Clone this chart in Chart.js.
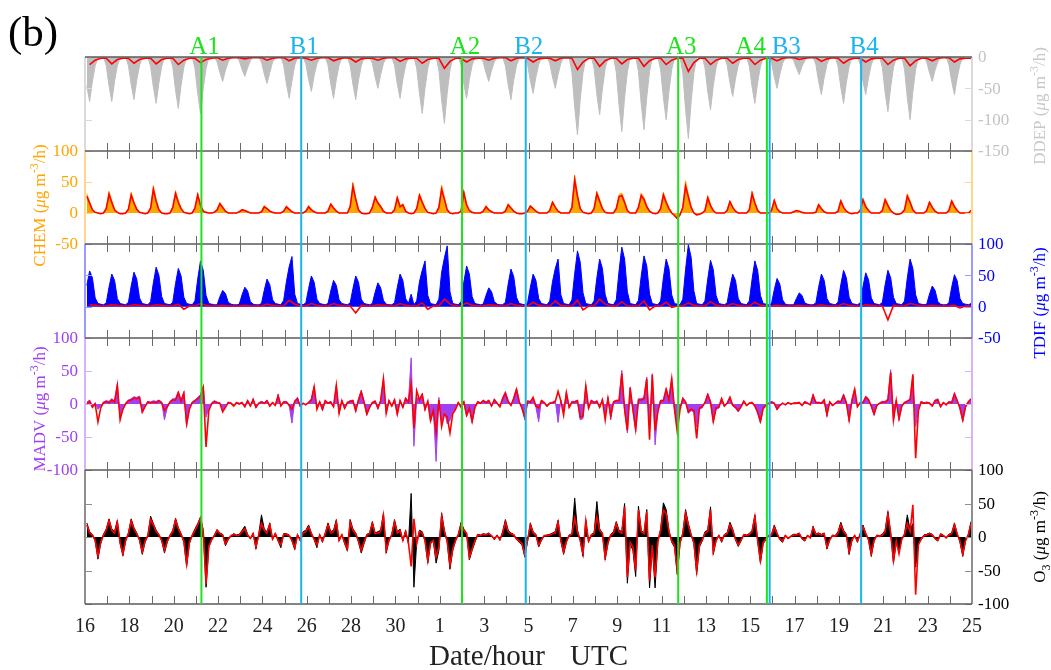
<!DOCTYPE html>
<html>
<head>
<meta charset="utf-8">
<script src="https://cdn.jsdelivr.net/npm/chart.js@4.4.1/dist/chart.umd.min.js"></script>
<style>
  html, body { margin: 0; padding: 0; background: #fff; }
  canvas { display: block; }
</style>
</head>
<body>
<canvas id="chart" width="1051" height="670"></canvas>
<script>
// tanggal pada sumbu x (setiap 2 hari, mulai tgl 16 sampai tgl 25 bulan berikutnya)
const dateLabels = ['16','18','20','22','24','26','28','30','1','3','5','7','9','11','13','15','17','19','21','23','25'];

// kejadian (jam sejak tgl 16 00 UTC)
const eventNames = ['A1','B1','A2','B2','A3','A4','B3','B4'];
const eventHours = [126, 234, 408, 477, 642, 738, 741, 840];

// nilai tiap 3 jam (02,05,08,11,14,17,20,23 UTC), satu kelompok = satu hari
const ddep = [
 -46,-71,-39,-14,-1,0,0,-14,  -46,-71,-39,-14,-1,0,0,-14,  -44,-68,-37,-14,-1,0,0,-15,  -48,-74,-41,-15,-1,0,0,-16,
 -53,-82,-45,-16,-1,0,0,-18,  -58,-90,-50,-18,-1,0,0,-8,   -25,-39,-21,-8,0,0,0,-6,    -20,-31,-17,-6,0,0,0,-8,
 -27,-42,-25,-8,-1,0,0,-13,   -43,-66,-38,-13,-1,0,0,-11,  -36,-55,-30,-11,-1,0,0,-13, -43,-66,-36,-13,-1,0,0,-14,
 -44,-68,-37,-14,-1,0,0,-10,  -32,-50,-28,-10,-1,0,0,-13,  -43,-66,-36,-13,-1,0,0,-18, -58,-90,-50,-18,-1,0,0,-21,
 -69,-106,-58,-21,-1,0,0,-13, -43,-66,-36,-13,-1,0,0,-8,   -25,-39,-21,-8,0,0,0,-14,   -44,-68,-37,-14,-1,0,0,-12,
 -38,-58,-32,-12,-1,0,0,-10,  -32,-50,-28,-10,-1,0,0,-25,  -80,-124,-68,-25,-1,0,0,-18, -60,-92,-51,-18,-1,0,0,-24,
 -77,-119,-65,-24,-1,0,0,-23, -75,-116,-64,-23,-1,0,0,-20, -65,-100,-55,-20,-1,0,0,-26, -84,-130,-72,-26,-1,0,0,-17,
 -55,-84,-46,-17,-1,0,0,-13,  -41,-63,-35,-13,-1,0,0,-15,  -48,-74,-41,-15,-1,0,0,-10, -32,-50,-28,-10,-1,0,0,-6,
 -18,-28,-15,-6,0,0,0,-12,    -39,-60,-33,-12,-1,0,0,-15,  -48,-74,-41,-15,-1,0,0,-12, -39,-60,-33,-12,-1,0,0,-17,
 -57,-87,-48,-17,-1,0,0,-20,  -65,-100,-55,-20,-1,0,0,-8,  -25,-39,-21,-8,0,0,0,-12,   -39,-60,-33,-12,-1,0,0,-4
];
// garis merah DDEP, tiap 6 jam (05,11,17,23 UTC)
const ddepRed = [
 -12,-5,-2,-2, -11,-4,-2,-2, -10,-4,-2,-2, -11,-4,-2,-2, -12,-5,-2,-2, -9,-4,-2,-1, -5,-2,-1,-1, -3,-1,-1,-1,
 -5,-2,-1,-1, -6,-2,-1,-2, -5,-2,-1,-1, -6,-3,-1,-2, -8,-3,-2,-2, -5,-2,-1,-1, -7,-3,-2,-2, -10,-4,-2,-2,
 -18,-7,-2,-2, -8,-3,-2,-2, -5,-2,-1,-1, -6,-2,-1,-2, -8,-3,-2,-2, -6,-2,-1,-2, -20,-8,-2,-2, -15,-6,-2,-2,
 -11,-4,-2,-2, -15,-6,-2,-2, -12,-5,-2,-2, -23,-9,-2,-2, -12,-5,-2,-2, -10,-4,-2,-2, -12,-5,-2,-2, -6,-2,-1,-1,
 -4,-2,-1,-1, -7,-3,-1,-2, -10,-4,-2,-2, -8,-3,-2,-2, -12,-5,-2,-2, -14,-6,-2,-2, -6,-2,-1,-1, -8,-3,-2,-2
];

const chem = [
 31,18,6,1,0,-1,0,8,  35,20,6,1,-1,-1,0,7, 33,18,7,1,0,-1,0,9,  44,22,6,0,-1,-1,0,10,
 36,20,8,1,0,-1,0,9,  32,14,4,1,0,0,1,6,   17,10,3,0,0,0,0,2,   6,4,2,0,0,0,0,2,
 12,8,3,1,0,0,0,3,    11,7,2,0,0,0,0,3,    12,6,2,0,0,0,0,4,    16,9,3,0,0,0,0,12,
 49,25,6,0,-1,-1,0,10, 28,18,12,3,0,0,0,6, 27,12,15,3,0,-1,0,8, 32,20,8,1,0,-1,0,10,
 45,25,6,0,-1,0,0,3,  35,15,4,1,0,0,0,3,   12,6,2,0,0,0,0,4,    15,9,3,0,-1,-1,0,3,
 13,8,3,0,0,0,0,5,    19,10,3,0,0,0,0,10,  61,30,8,1,0,-1,0,8,  35,22,8,1,0,0,0,8,
 30,32,20,5,0,0,0,10, 32,25,12,3,0,-1,0,8, 33,20,8,0,-4,-10,-3,10, 52,30,10,0,-3,-2,0,5,
 28,14,4,0,0,0,0,5,   20,10,3,0,0,0,0,6,   35,18,5,0,0,0,0,4,   22,8,2,0,0,0,0,2,
 4,3,1,0,0,0,0,1,     15,8,2,0,0,0,0,3,    21,10,3,0,-1,0,0,4,  24,12,4,0,0,0,0,5,
 24,14,5,0,-3,-2,0,6, 31,20,6,0,0,0,0,5,   19,10,3,0,0,0,0,4,   21,12,4,0,0,0,0,5
];
const chemRed = [
 27,16,5,1,0,-1,0,7,  30,17,5,1,-1,-1,0,6, 29,16,6,1,0,-1,0,8,  38,19,5,0,-1,-1,0,9,
 31,17,7,1,0,-1,0,8,  29,12,3,1,0,0,1,5,   15,9,3,0,0,0,0,2,    5,4,2,0,0,0,0,2,
 10,7,3,1,0,0,0,3,    10,6,2,0,0,0,0,3,    10,5,2,0,0,0,0,3,    14,8,3,0,0,0,0,10,
 43,22,5,0,-1,-1,0,9, 25,16,10,3,0,0,0,5,  24,10,13,3,0,-1,0,7, 28,17,7,1,0,-1,0,9,
 38,22,5,0,-1,0,0,3,  33,13,4,1,0,0,0,3,   10,5,2,0,0,0,0,3,    13,8,3,0,-1,-1,0,3,
 11,7,3,0,0,0,0,4,    17,9,3,0,0,0,0,9,    53,27,7,1,0,-1,0,7,  31,19,7,1,0,0,0,7,
 26,28,17,4,0,0,0,9,  28,22,10,3,0,-1,0,7, 29,17,7,0,-4,-9,-3,9, 43,26,9,0,-3,-2,0,4,
 24,12,4,0,0,0,0,4,   18,9,3,0,0,0,0,5,    31,16,4,0,0,0,0,4,   20,7,2,0,0,0,0,2,
 4,3,1,0,0,0,0,1,     13,7,2,0,0,0,0,3,    19,9,3,0,-1,0,0,4,   21,10,4,0,0,0,0,4,
 21,12,4,0,-2,-2,0,5, 27,17,5,0,0,0,0,4,   17,9,3,0,0,0,0,4,    19,10,4,0,0,0,0,4
];

const tdif = [
 34,57,46,14,5,4,3,6,  31,52,42,13,5,4,3,7,  33,55,44,14,5,4,3,8,  38,63,50,16,5,4,3,7,
 37,61,49,15,5,4,3,9,  44,73,58,18,5,4,3,3,  16,26,21,7,4,3,3,4,   19,31,25,8,4,3,3,5,
 26,44,35,11,5,4,3,10, 40,64,80,20,5,4,3,6,  29,49,39,12,5,4,3,5,  25,42,34,11,5,4,3,6,
 29,49,39,12,5,4,3,5,  23,38,30,10,4,3,3,6,  31,52,42,13,5,20,3,9, 40,58,73,18,5,4,3,12,
 55,78,97,24,5,4,3,8,  39,65,52,16,5,4,3,4,  18,30,24,8,4,3,3,7,   36,60,48,15,5,4,3,6,
 31,52,42,13,5,4,3,9,  40,61,76,19,5,4,3,11, 53,89,71,22,5,4,3,9,  46,76,61,19,5,4,3,11,
 57,95,76,24,5,4,3,10, 49,81,65,20,5,4,3,9,  46,76,61,19,5,4,3,12, 59,99,79,25,5,4,3,9,
 44,74,59,18,5,4,3,6,  31,52,42,13,5,4,3,9,  44,73,58,18,5,4,3,5,  27,45,36,11,4,3,3,3,
 13,22,18,6,4,3,3,6,   31,52,42,13,5,4,3,7,  35,58,46,15,5,4,3,6,  32,54,43,14,5,4,3,7,
 35,58,46,15,5,4,3,9,  46,76,61,19,5,4,3,4,  20,33,26,8,4,3,3,6,   31,51,41,13,5,4,3,5
];
// garis merah TDIF, tiap 6 jam (05,11,17,23 UTC)
const tdifRed = [
 3,2,1,1, 3,2,1,1, 3,2,1,1, 3,2,1,1, 4,-4,1,1, 5,2,1,1, 2,1,1,1, 2,1,1,1,
 4,2,1,1, 10,4,1,1, 5,2,1,1, 5,2,1,1, -10,2,1,1, 3,2,1,1, 5,2,1,1, 6,-4,1,1,
 12,4,1,1, 6,2,1,1, 3,2,1,1, 5,2,1,1, 7,2,1,1, 9,2,1,1, 10,-5,1,1, 12,4,1,1,
 8,1,1,1, 9,-5,1,1, 7,-1,1,1, 6,2,1,1, 8,2,1,1, 5,2,1,1, 7,2,1,1, 2,1,1,1,
 2,1,1,1, 3,1,1,1, 5,2,1,1, 3,2,1,1, -21,2,1,1, 5,3,1,1, 2,1,1,1, 2,-2,1,1
];

const madv = [
 3,6,-3,2,-8,-4,3,5,      4,8,5,31,-20,-5,2,6,     8,11,10,12,-14,-3,4,3,   5,4,6,3,-24,-6,4,8,
 8,19,6,19,-34,-5,3,6,    10,14,27,-20,-6,2,5,3,   2,-10,-4,3,2,-2,3,1,     3,-5,6,-4,8,-6,2,4,
 2,6,-4,3,-3,15,-2,4,     4,-3,-29,5,10,-4,2,-2,   3,8,27,-6,4,-10,6,2,     4,-5,29,-15,6,-8,3,5,
 6,-12,8,21,4,-17,-6,3,   5,-8,6,40,-15,6,-4,8,    -17,6,-6,10,4,70,-64,10, 8,16,-10,5,-27,-8,-87,10,
 -28,-10,-30,-25,-12,-6,3,-4, 4,-19,-8,-29,-6,4,2,6, 3,6,-4,8,2,-5,10,19,   5,-3,10,24,4,-8,-24,5,
 4,8,-5,-27,6,3,-4,2,     3,5,-28,6,-10,19,-6,4,   4,6,-24,-22,29,-8,6,3,   5,-6,8,-15,11,-24,4,6,
 6,51,-10,-44,26,-10,-42,8, 8,10,41,-30,46,-62,-10,6, 6,24,8,40,-10,-30,-6,10, 4,-14,-10,-12,-35,-8,-6,3,
 16,4,-29,-8,-6,9,-4,2,   11,-3,-6,-12,-5,5,-3,2,  3,-4,-14,-29,-8,-3,2,4,  2,-9,-3,2,-2,3,-1,2,
 2,3,-3,4,2,-2,15,3,      3,2,7,-19,4,-3,2,5,      4,15,3,-27,6,24,-5,3,    3,12,8,-4,-17,-3,2,4,
 4,8,52,-27,6,-25,-4,3,   5,8,42,-34,-8,4,2,3,     2,-4,6,8,-5,3,-2,4,      3,17,6,-8,-27,-5,4,6
];
const madvRed = [
 0,4,-5,0,-27,-6,2,4,     2,6,3,28,-24,-8,0,5,     6,9,8,10,-12,-4,3,2,     3,2,5,2,-10,-4,3,6,
 6,17,4,16,-30,-8,2,5,    8,12,25,-65,-10,0,4,2,   1,-12,-5,2,1,-3,2,0,     2,-4,5,-3,7,-5,1,3,
 1,5,-3,2,-2,12,-3,3,     3,-2,-8,4,8,-3,1,-1,     2,6,26,-8,3,-8,5,1,      3,-4,28,-14,5,-6,2,4,
 5,-10,6,18,3,-15,-5,2,   4,-6,5,38,-14,5,-3,6,    -15,5,-5,8,3,30,-37,20,  6,14,-8,4,-25,-10,-43,6,
 -34,-15,-20,-44,-15,-8,2,-5, 3,-17,-6,-26,-5,3,1,5, 2,5,-3,6,1,-4,8,16,   4,-2,8,22,3,-6,-20,4,
 3,10,-3,-6,5,2,-3,1,     2,4,19,5,-17,17,-5,3,    3,5,-20,-18,27,-6,5,2,   4,-5,6,-24,8,-18,3,5,
 5,46,-8,-40,24,-8,-38,6, 6,8,38,-54,44,-40,-12,5, 5,22,6,38,-8,-42,-8,8,   3,-12,-8,-10,-52,-6,-4,2,
 14,3,-26,-6,-5,8,-3,1,   10,-2,-5,-10,-4,4,-2,1,  2,-3,-12,-26,-6,-2,1,3,  1,-8,-2,1,-1,2,0,1,
 1,2,-2,3,1,-1,13,2,      2,1,6,-16,3,-2,1,4,      3,13,2,-24,5,22,-4,2,    2,10,6,-3,-15,-2,1,3,
 3,6,48,-24,5,-22,-3,2,   4,6,45,-82,-10,3,1,2,    1,-3,5,6,-4,2,-1,3,      2,15,5,-6,-24,-4,3,8
];

const o3 = [
 21,8,4,-6,-33,-10,4,12,  27,12,8,25,-10,-28,-6,6,  27,14,6,-5,-26,-8,2,31,  20,10,4,-6,-24,-8,3,10,
 28,14,5,-8,-44,-10,3,12, 20,30,10,-75,-15,-5,3,11, 6,4,-13,-4,2,5,3,4,      10,16,4,-3,6,-18,4,33,
 12,8,21,-4,6,-6,-16,5,   5,3,-6,-19,4,-6,8,10,     18,6,-4,-16,4,-8,6,21,   8,10,26,-6,4,-10,-21,26,
 12,6,-8,-24,-10,4,6,23,  6,8,10,36,-24,-6,4,26,    8,12,-6,10,-10,65,-75,-8, 10,8,-6,-39,-10,-6,-39,-20,
 36,10,-8,-48,-20,-6,4,22, 12,6,-34,-20,-8,4,3,5,   4,6,2,-4,3,-5,8,26,      10,6,4,-4,-8,-12,-30,-6,
 21,8,4,-15,-5,2,3,4,     6,8,25,-6,-26,-8,3,5,     58,10,-6,-29,26,-8,4,6,  53,12,6,-34,-10,4,8,23,
 10,8,50,-69,-10,-20,-59,46, 10,6,41,-76,-15,-76,-8,12, 51,41,10,-8,-15,-56,-10,6, 41,20,4,-10,-56,-15,-6,8,
 10,45,-26,-6,3,-8,4,6,   22,12,-4,-14,-6,4,3,5,    10,33,-6,-39,-10,-4,3,4, 18,6,-4,-8,3,-3,2,4,
 4,6,-3,-6,3,-2,16,5,     6,4,6,-18,-5,3,2,8,       22,10,4,-26,-6,3,-8,5,   18,6,-5,-29,-6,3,2,4,
 10,38,6,-39,-8,-20,-4,5, 33,10,20,-45,-10,-4,3,4,  6,4,-3,-6,5,3,-2,4,      6,21,5,-8,-29,-6,4,23
];
const o3Red = [
 18,6,3,-5,-28,-8,3,10,   24,10,6,22,-8,-25,-5,5,   24,12,5,-4,-22,-6,2,26,  18,8,3,-5,-20,-6,2,8,
 25,12,4,-6,-40,-8,2,10,  18,28,8,-70,-14,-4,2,10,  5,3,-10,-3,2,4,2,3,      8,12,3,-2,5,-15,3,20,
 10,6,18,-3,5,-5,-12,4,   4,2,-5,-16,3,-5,6,8,      15,5,-3,-12,3,-6,5,18,   6,8,22,-5,3,-8,-18,22,
 10,5,-6,-20,-8,3,5,20,   5,6,8,32,-20,-5,3,22,     6,10,-5,8,-8,-44,27,-10, 8,6,-5,-35,-8,-5,-30,-15,
 30,8,-6,-42,-18,-5,3,18, 10,5,-30,-18,-6,3,2,4,    3,5,2,-3,2,-4,6,22,      8,5,3,-3,-6,-10,-26,-5,
 18,6,3,-12,-4,2,2,3,     5,6,22,-5,-22,-6,2,4,     28,8,-5,-25,24,-6,3,5,   30,10,5,-30,-8,3,6,20,
 8,6,45,-60,-8,-15,-50,40, 8,5,38,-65,-12,-60,-6,10, 40,35,8,-6,-12,-50,-8,5, 35,18,3,-8,-50,-12,-5,6,
 8,40,-22,-5,2,-6,3,5,    18,10,-3,-12,-5,3,2,4,    8,30,-5,-35,-8,-3,2,3,   15,5,-3,-6,2,-2,1,3,
 3,5,-2,-5,2,-1,14,4,     5,3,5,-15,-4,2,1,6,       18,8,3,-22,-5,2,-6,4,    15,5,-4,-25,-5,2,1,3,
 8,34,5,-35,-6,-25,-3,4,  20,8,48,-86,-12,-3,2,3,   5,3,-2,-5,4,2,-1,3,      5,18,4,-6,-25,-5,3,20
];

// ---------------------------------------------------------------
const FONT = '"Liberation Serif", "Times New Roman", serif';
const AREA = { top: 57, bottom: 604 };   // area plot (px)

// panel: sumbu, rentang nilai, posisi pita (px), warna
const panels = [
  { id: 'yD', pos: 'right', max: 0,   min: -150, top: 57,  bot: 151, ticks: [0, -50, -100, -150], color: '#c3c3c3', side: '#dadada' },
  { id: 'yC', pos: 'left',  max: 100, min: -50,  top: 151, bot: 244, ticks: [100, 50, 0, -50],    color: '#ffa500', side: '#ffd590' },
  { id: 'yT', pos: 'right', max: 100, min: -50,  top: 244, bot: 338, ticks: [100, 50, 0, -50],    color: '#0000ff', side: '#9a9aff' },
  { id: 'yM', pos: 'left',  max: 100, min: -100, top: 338, bot: 470, ticks: [100, 50, 0, -50, -100], color: '#a040f0', side: '#dcb2f6' },
  { id: 'yO', pos: 'right', max: 100, min: -100, top: 470, bot: 604, ticks: [100, 50, 0, -50, -100], color: '#000000', side: '#8e8e8e' }
];

function series(vals, step, start) {
  return vals.map((v, i) => ({ x: start + i * step, y: v }));
}

const scales = {
  x: {
    type: 'linear', position: 'bottom', min: 0, max: 960,
    grid: { display: false, drawTicks: false }, border: { display: false },
    afterBuildTicks: s => { s.ticks = dateLabels.map((_, i) => ({ value: i * 48 })); },
    afterFit: s => { s.height = 66; },
    ticks: {
      autoSkip: false, maxRotation: 0, padding: 11, color: '#222',
      font: { family: FONT, size: 20 },
      callback: v => dateLabels[Math.round(v / 48)]
    }
  }
};
panels.forEach(p => {
  const k = (p.bot - p.top) / (p.max - p.min);
  scales[p.id] = {
    type: 'linear', position: p.pos,
    max: p.max + (p.top - AREA.top) / k,
    min: p.min - (AREA.bottom - p.bot) / k,
    grid: { display: false, drawTicks: false }, border: { display: false },
    afterBuildTicks: s => { s.ticks = p.ticks.map(v => ({ value: v })); },
    afterFit: s => { s.width = 0; },
    ticks: { display: false }
  };
});

function area(vals, axis, color) {
  return { data: series(vals, 3, 2), yAxisID: axis, borderColor: color, backgroundColor: color,
           borderWidth: 1, fill: 'origin', pointRadius: 0, order: 2 };
}
function red(vals, axis, step, start) {
  return { data: series(vals, step, start), yAxisID: axis, borderColor: '#ff0000',
           borderWidth: 1.6, fill: false, pointRadius: 0, order: 1 };
}

// teks dengan superscript / subscript, diputar 90 derajat
function richText(ctx, parts, x, y, size, color) {
  const fontOf = k => (k === 'i' ? 'italic ' : '') + ((k === 'sup' || k === 'sub') ? Math.round(size * 0.68) : size) + 'px ' + FONT;
  ctx.save();
  ctx.translate(x, y);
  ctx.rotate(-Math.PI / 2);
  let w = 0;
  parts.forEach(([t, k]) => { ctx.font = fontOf(k); w += ctx.measureText(t).width; });
  let cx = -w / 2;
  ctx.fillStyle = color;
  ctx.textBaseline = 'alphabetic';
  ctx.textAlign = 'left';
  parts.forEach(([t, k]) => {
    ctx.font = fontOf(k);
    const dy = k === 'sup' ? -size * 0.42 : (k === 'sub' ? size * 0.28 : 0);
    ctx.fillText(t, cx, dy);
    cx += ctx.measureText(t).width;
  });
  ctx.restore();
}
const unit = [[' (', ''], ['μ', 'i'], ['g m', ''], ['-3', 'sup'], ['/h)', '']];

const deco = {
  id: 'deco',
  afterDatasetsDraw(chart) {
    const { ctx, chartArea: a, scales: s } = chart;
    ctx.save();
    // garis tepi kiri/kanan berwarna + tick y + label tick y
    panels.forEach(p => {
      const sc = s[p.id];
      const y0 = sc.getPixelForValue(p.max), y1 = sc.getPixelForValue(p.min);
      ctx.strokeStyle = p.side;
      ctx.lineWidth = 2;
      ctx.beginPath();
      ctx.moveTo(a.left, y0); ctx.lineTo(a.left, y1);
      ctx.moveTo(a.right, y0); ctx.lineTo(a.right, y1);
      ctx.stroke();
      ctx.lineWidth = 1;
      ctx.font = '17px ' + FONT;
      ctx.fillStyle = p.color;
      ctx.textBaseline = 'middle';
      ctx.textAlign = p.pos === 'left' ? 'right' : 'left';
      p.ticks.forEach(v => {
        const yv = sc.getPixelForValue(v);
        const y = Math.round(yv) + 0.5;
        ctx.beginPath();
        ctx.moveTo(a.left, y); ctx.lineTo(a.left + 7, y);
        ctx.moveTo(a.right, y); ctx.lineTo(a.right - 7, y);
        ctx.stroke();
        ctx.fillText(String(v), p.pos === 'left' ? a.left - 7 : a.right + 6, yv + 1);
      });
    });
    // garis pemisah antar panel dengan tick harian
    const seps = panels.map(p => s[p.id].getPixelForValue(p.max));
    const bottom = s.yO.getPixelForValue(-100);
    ctx.strokeStyle = '#5a5a5a';
    ctx.lineWidth = 1.5;
    seps.concat([bottom]).forEach(y => {
      ctx.beginPath(); ctx.moveTo(a.left, y); ctx.lineTo(a.right, y); ctx.stroke();
    });
    ctx.strokeStyle = '#6a6a6a';
    ctx.lineWidth = 1;
    for (let d = 1; d < 40; d++) {
      const x = Math.round(s.x.getPixelForValue(d * 24)) + 0.5;
      ctx.beginPath();
      seps.slice(1).forEach(y => { ctx.moveTo(x, y - 8); ctx.lineTo(x, y + 8); });
      ctx.moveTo(x, bottom - 8); ctx.lineTo(x, bottom);
      ctx.stroke();
    }
    // garis kejadian A / B
    eventHours.forEach((h, i) => {
      const x = s.x.getPixelForValue(h);
      ctx.strokeStyle = eventNames[i][0] === 'A' ? '#1ee21e' : '#1ab4ee';
      ctx.lineWidth = 2;
      ctx.beginPath(); ctx.moveTo(x, a.top); ctx.lineTo(x, a.bottom); ctx.stroke();
    });
    ctx.restore();
  },
  afterDraw(chart) {
    const { ctx, scales: s } = chart;
    ctx.save();
    // label kejadian
    ctx.font = '25px ' + FONT;
    ctx.textBaseline = 'alphabetic';
    eventHours.forEach((h, i) => {
      const x = s.x.getPixelForValue(h);
      ctx.fillStyle = eventNames[i][0] === 'A' ? '#1ee21e' : '#1ab4ee';
      const next = eventHours[i + 1], prev = eventHours[i - 1];
      if (next !== undefined && next - h < 24) { ctx.textAlign = 'right'; ctx.fillText(eventNames[i], x - 1, 54); }
      else if (prev !== undefined && h - prev < 24) { ctx.textAlign = 'left'; ctx.fillText(eventNames[i], x + 2, 54); }
      else { ctx.textAlign = 'center'; ctx.fillText(eventNames[i], x + 3, 54); }
    });
    // (b)
    ctx.fillStyle = '#000';
    ctx.textAlign = 'left';
    ctx.font = '43px ' + FONT;
    ctx.fillText('(b)', 8, 46);
    // judul sumbu x
    ctx.font = '29px ' + FONT;
    ctx.fillStyle = '#222';
    ctx.fillText('Date/hour', 429, 665);
    ctx.fillText('UTC', 570, 665);
    ctx.restore();
    // judul sumbu y
    const mid = p => (p.top + p.bot) / 2;
    richText(ctx, [['DDEP', '']].concat(unit), 1045, mid(panels[0]) + 2, 17, '#c8c8c8');
    richText(ctx, [['CHEM', '']].concat(unit), 45, mid(panels[1]) + 8, 17, '#ffa500');
    richText(ctx, [['TDIF', '']].concat(unit), 1045, mid(panels[2]) + 12, 17, '#0000ff');
    richText(ctx, [['MADV', '']].concat(unit), 45, mid(panels[3]) + 5, 17, '#a040f0');
    richText(ctx, [['O', ''], ['3', 'sub']].concat(unit), 1045, mid(panels[4]), 17, '#000000');
  }
};

new Chart(document.getElementById('chart'), {
  type: 'line',
  data: {
    datasets: [
      area(ddep, 'yD', '#bebebe'),
      red(ddepRed, 'yD', 6, 5),
      area(chem, 'yC', '#ffa500'),
      red(chemRed, 'yC', 3, 2),
      area(tdif, 'yT', '#0000ff'),
      red(tdifRed, 'yT', 6, 5),
      area(madv, 'yM', '#a040f0'),
      red(madvRed, 'yM', 3, 2),
      area(o3, 'yO', '#000000'),
      red(o3Red, 'yO', 3, 2)
    ]
  },
  options: {
    responsive: false,
    animation: false,
    devicePixelRatio: 1,
    layout: { padding: { left: 85, right: 79, top: 57, bottom: 0 } },
    plugins: { legend: { display: false }, tooltip: { enabled: false } },
    elements: { line: { tension: 0 } },
    scales: scales
  },
  plugins: [deco]
});
</script>
</body>
</html>
